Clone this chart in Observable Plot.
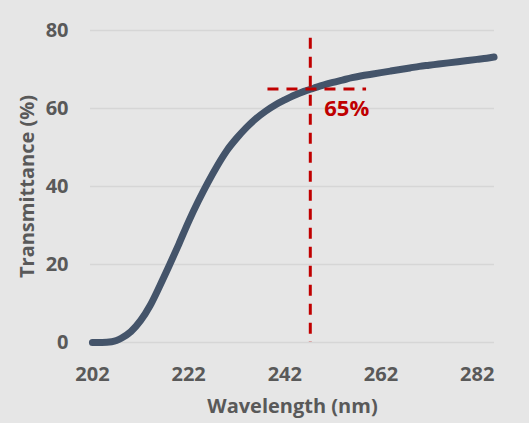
<!DOCTYPE html>
<html>
<head>
<meta charset="utf-8">
<script src="https://cdn.jsdelivr.net/npm/d3@7"></script>
<script src="https://cdn.jsdelivr.net/npm/@observablehq/plot@0.6"></script>
<style>
  html, body { margin: 0; padding: 0; background: #e6e6e6; }
  #chart svg { display: block; background: linear-gradient(#ececec 0 10px, #e6e6e6 10px); }
</style>
</head>
<body>
<div id="chart"></div>
<script>
const wavelength = [202, 204, 206, 207, 208, 210, 212, 214, 216, 218, 220, 222, 224, 226, 228, 230, 232, 234, 236, 238, 240, 242, 244, 246, 248, 250, 252, 254, 256, 258, 260, 262, 264, 266, 268, 270, 272, 274, 276, 278, 280, 282, 284, 285.5];
const transmittance = [0, 0, 0.2, 0.5, 1.1, 2.8, 5.6, 9.5, 14.5, 19.8, 25.3, 31, 36.2, 41, 45.4, 49.3, 52.4, 55.1, 57.4, 59.3, 60.9, 62.2, 63.4, 64.4, 65.2, 66, 66.7, 67.3, 67.9, 68.4, 68.8, 69.2, 69.6, 70, 70.4, 70.8, 71.1, 71.4, 71.7, 72, 72.3, 72.6, 72.9, 73.2];
const xTicks = [202, 222, 242, 262, 282];
const yTicks = [0, 20, 40, 60, 80];
const markerWavelength = [247.3];
const markerTransmittance = [65];
const markerLabel = ["65%"];
const vLineTop = [78];
const hLineFrom = [238.5];
const hLineTo = [259];

const data = wavelength.map((w, i) => ({w, t: transmittance[i]}));
const vLine = markerWavelength.map((w, i) => ({x: w, y1: vLineTop[i], y2: 0}));
const hLine = markerTransmittance.map((t, i) => ({y: t, x1: hLineFrom[i], x2: hLineTo[i]}));
const lab = markerLabel.map((s, i) => ({x: markerWavelength[i], y: markerTransmittance[i], s}));

const red = "#c00000";
const chart = Plot.plot({
  width: 529,
  height: 423,
  marginLeft: 90,
  marginRight: 35,
  marginTop: 30,
  marginBottom: 81,
  style: {fontFamily: "'Open Sans', sans-serif", fontWeight: "bold", color: "#595959", background: "transparent"},
  x: {domain: [201.6, 285.6]},
  y: {domain: [0, 80]},
  marks: [
    Plot.ruleY(yTicks, {stroke: "#d6d6d6", strokeWidth: 1.5}),
    Plot.axisX(xTicks, {tickSize: 0, tickPadding: 24, fontSize: 20, fill: "#595959",
      label: "Wavelength (nm)", labelAnchor: "center", labelArrow: "none", labelOffset: 70}),
    Plot.axisY(yTicks, {tickSize: 0, tickPadding: 22, fontSize: 20, fill: "#595959",
      label: "Transmittance (%)", labelAnchor: "center", labelArrow: "none", labelOffset: 71}),
    Plot.line(data, {x: "w", y: "t", stroke: "#44546a", strokeWidth: 7, curve: "monotone-x", strokeLinecap: "round"}),
    Plot.ruleX(vLine, {x: "x", y1: "y1", y2: "y2", stroke: red, strokeWidth: 3, strokeDasharray: "11,8"}),
    Plot.ruleY(hLine, {y: "y", x1: "x1", x2: "x2", stroke: red, strokeWidth: 3, strokeDasharray: "11,8"}),
    Plot.text(lab, {x: "x", y: "y", text: "s", fill: red, fontSize: 22, fontWeight: "bold", textAnchor: "start", dx: 14, dy: 20})
  ]
});
chart.querySelectorAll("g[aria-label='x-axis label']").forEach(g => g.setAttribute("font-size", 20));
chart.querySelectorAll("g[aria-label='y-axis label']").forEach(g => g.setAttribute("font-size", 20));
document.getElementById("chart").appendChild(chart);
</script>
</body>
</html>
